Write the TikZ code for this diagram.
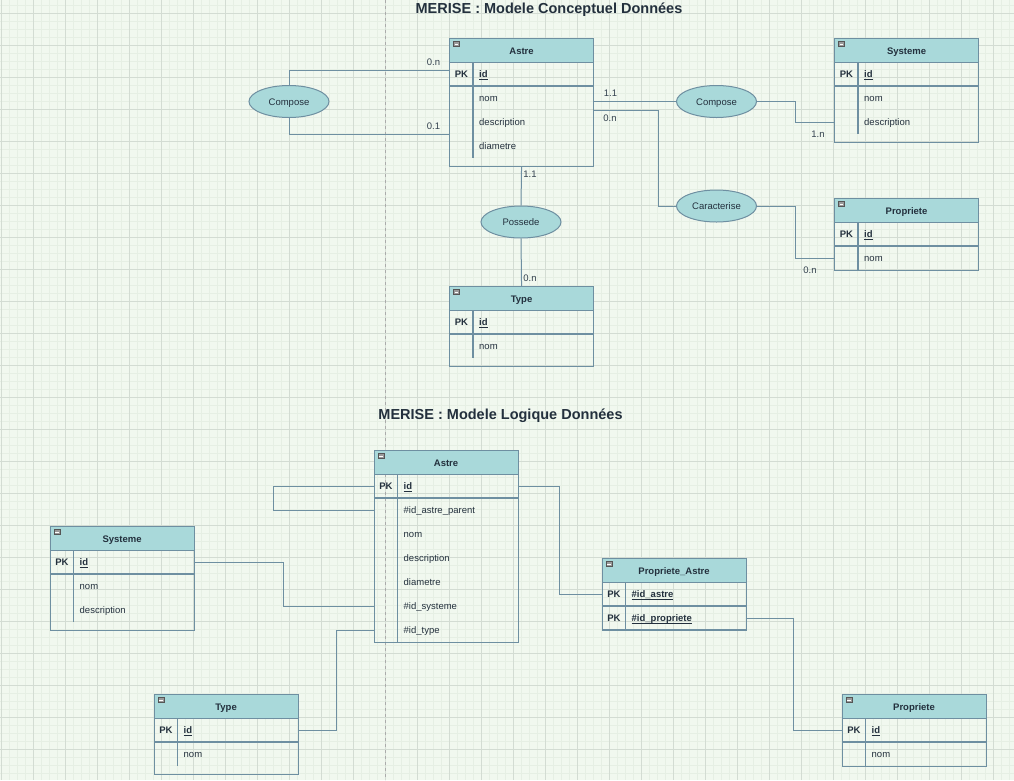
\documentclass[tikz,border=0pt]{standalone}
\usepackage{fontspec}
\setmainfont{Liberation Sans}
\usetikzlibrary{shapes.geometric,calc}
\definecolor{bg}{HTML}{F1F8EF}
\definecolor{gridminor}{HTML}{E6EFE4}
\definecolor{gridmajor}{HTML}{D3DCD3}
\definecolor{hdr}{HTML}{A9D9DA}
\definecolor{bord}{HTML}{6E8FA1}
\definecolor{txt}{HTML}{23303D}
\definecolor{lbl}{HTML}{34424F}
\definecolor{guidecol}{HTML}{ABABAB}
\definecolor{iconfill}{HTML}{9A9A9A}
\definecolor{icondraw}{HTML}{555555}
\tikzset{
 every node/.style={font=\fontsize{9.5}{11}\selectfont, text=txt},
 tframe/.style={draw=bord, line width=1.1pt, minimum width=144pt, inner sep=0pt, anchor=north west},
 thead/.style={fill=hdr, draw=bord, line width=1.1pt, minimum width=144pt, minimum height=24pt, inner sep=0pt, anchor=north west, text height=7pt, text depth=0pt, font=\fontsize{9.5}{11}\selectfont\bfseries},
 trow/.style={minimum width=144pt, minimum height=24pt, inner sep=0pt, anchor=north west},
 pklbl/.style={font=\fontsize{9.5}{11}\selectfont\bfseries, inner sep=0pt, anchor=base},
 fld/.style={anchor=base west, inner sep=0pt},
 pkfld/.style={anchor=base west, inner sep=0pt, font=\fontsize{9.5}{11}\selectfont\bfseries},
 tline/.style={draw=bord, line width=1.1pt},
 rel/.style={ellipse, fill=hdr, draw=bord, line width=1pt, minimum width=80pt, minimum height=32pt, inner sep=0pt, text height=7pt, text depth=0pt},
 conn/.style={draw=bord, line width=1pt},
 card/.style={text=lbl, inner sep=0pt},
 ttl/.style={font=\fontsize{14.5}{17}\selectfont\bfseries, text=txt, inner sep=0pt},
}
\newcommand{\pkul}[1]{\underline{\smash{#1}}}
% #1 name, #2 x, #3 y, #4 title, #5 PK list, #6 nPK, #7 attr list, #8 nAttr, #9 bottom padding
\newcommand{\ertable}[9]{%
\begin{scope}[shift={(#2,#3)}]
 \pgfmathsetmacro\rowsend{24+24*(#6+#8)}
 \pgfmathsetmacro\tabh{\rowsend+#9}
 \node[tframe, minimum height=\tabh pt] (#1) at (0,0) {};
 \node[thead] (#1-h) at (0,0) {#4};
 \draw[fill=iconfill, draw=icondraw, line width=0.5pt] (4.3,3.5) rectangle (10.3,8.7);
 \draw[white, line width=0.9pt] (5.5,6.1) -- (9.1,6.1);
 \foreach \t [count=\i] in {#5} {
   \node[trow] (#1-\i) at (0,{24*\i}) {};
   \node[pklbl] (#1-k\i) at (12.5,{24*\i+15.4}) {PK};
   \node[pkfld] (#1-f\i) at (30,{24*\i+15.4}) {\pkul{\t}};
   \draw[tline] (0,{24*\i+24}) -- (144,{24*\i+24});
 }
 \ifnum#8>0
 \foreach \t [count=\j] in {#7} {
   \pgfmathtruncatemacro\k{\j+#6}
   \node[trow] (#1-\k) at (0,{24*\k}) {};
   \node[fld] (#1-f\k) at (30,{24*\k+15.3}) {\t};
 }
 \fi
 \draw[tline] (24,24) -- (24,\rowsend);
\end{scope}}
\begin{document}
\begin{tikzpicture}[x=1pt,y=-1pt]
\useasboundingbox (0,0) rectangle (1014,780);
\fill[bg] (0,0) rectangle (1014,780);
\foreach \x in {1,9,...,1014} \draw[gridminor, line width=0.7pt] (\x,0) -- (\x,780);
\foreach \y in {5,13,...,780} \draw[gridminor, line width=0.7pt] (0,\y) -- (1014,\y);
\foreach \x in {1,33,...,1014} \draw[gridmajor, line width=0.8pt] (\x,0) -- (\x,780);
\foreach \y in {13,45,...,780} \draw[gridmajor, line width=0.8pt] (0,\y) -- (1014,\y);
\draw[guidecol, line width=0.8pt, dash pattern=on 3pt off 3pt] (385.5,0) -- (385.5,780);

% titles
\node[ttl] (title1) at (549,9.5) {MERISE : Modele Conceptuel Données};
\node[ttl] (title2) at (500.5,416) {MERISE : Modele Logique Données};

% ---- MCD ----
\ertable{astreT}{449}{38}{Astre}{id}{1}{nom,description,diametre}{3}{8}
\ertable{sysT}{834}{38}{Systeme}{id}{1}{nom,description}{2}{8}
\ertable{propT}{834}{198}{Propriete}{id}{1}{nom}{1}{0}
\ertable{typeT}{449}{286}{Type}{id}{1}{nom}{1}{8}

\node[rel] (compL) at (289,101.5) {Compose};
\node[rel] (compR) at (716.5,101.5) {Compose};
\node[rel] (possede) at (521,222) {Possede};
\node[rel] (carac) at (716.5,206) {Caracterise};

\draw[conn] ([yshift=4pt]astreT-1.west) -| (compL.north);
\draw[conn] (compL.south) |- (astreT-3.south west);
\draw[conn] (compR.west) -- (compR.west -| astreT.east);
\draw[conn] (astreT-2.south east) -- ++(65,0) |- (carac.west);
\draw[conn] (compR.east) -- ++(38,0) |- (sysT-3.west);
\draw[conn] (carac.east) -- ++(38,0) |- (propT-2.west);
\draw[conn] (astreT.south) -- (possede.north);
\draw[conn] (possede.south) -- (typeT.north);

\node[card] (c1) at (433.5,62) {0.n};
\node[card] (c2) at (433.5,126) {0.1};
\node[card] (c3) at (610.5,93.5) {1.1};
\node[card] (c4) at (610,118) {0.n};
\node[card] (c5) at (818,134) {1.n};
\node[card] (c6) at (810,270) {0.n};
\node[card] (c7) at (530,174) {1.1};
\node[card] (c8) at (530,278) {0.n};

% ---- MLD ----
\ertable{astreL}{373.5}{450}{Astre}{id}{1}{\#id\_astre\_parent,nom,description,diametre,\#id\_systeme,\#id\_type}{6}{0}
\ertable{sysL}{49.5}{526}{Systeme}{id}{1}{nom,description}{2}{8}
\ertable{typeL}{153.5}{694}{Type}{id}{1}{nom}{1}{8}
\ertable{paT}{601.5}{558}{Propriete\_Astre}{\#id\_astre,\#id\_propriete}{2}{}{0}{0}
\ertable{propL}{841.5}{694}{Propriete}{id}{1}{nom}{1}{0}

\draw[conn] (astreL-1.west) -- ++(-100,0) |- (astreL-2.west);
\draw[conn] (sysL-1.east) -- ++(90,0) |- (astreL-6.west);
\draw[conn] (astreL-7.west) -- ++(-37.5,0) |- (typeL-1.east);
\draw[conn] (astreL-1.east) -- ++(42,0) |- (paT-1.west);
\draw[conn] (paT-2.east) -- ++(48,0) |- (propL-1.west);
\end{tikzpicture}
\end{document}
